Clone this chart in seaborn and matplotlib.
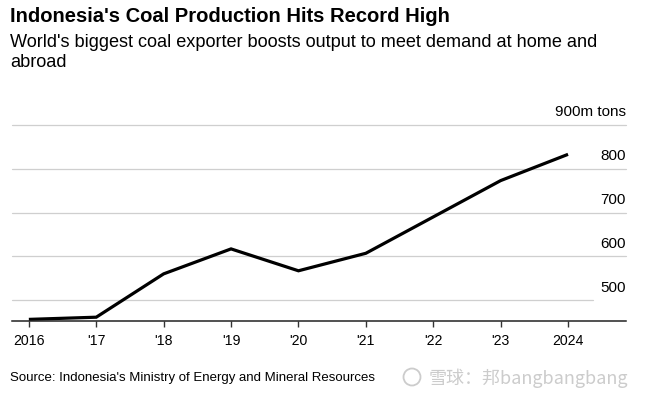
import matplotlib
matplotlib.use("Agg")
import matplotlib.pyplot as plt
import seaborn as sns
import pandas as pd
from matplotlib import font_manager
from matplotlib.patches import Ellipse

years = [2016, 2017, 2018, 2019, 2020, 2021, 2022, 2023, 2024]
production = [456, 461, 560, 617, 567, 607, 690, 773, 833]
x_labels = ["2016", "'17", "'18", "'19", "'20", "'21", "'22", "'23", "2024"]
y_ticks = [500, 600, 700, 800, 900]
y_labels = ["500", "600", "700", "800", "900m tons"]

title = "Indonesia's Coal Production Hits Record High"
subtitle_lines = ["World's biggest coal exporter boosts output to meet demand at home and",
                  "abroad"]
source = "Source: Indonesia's Ministry of Energy and Mineral Resources"
watermark = "雪球：邦bangbangbang"

sns.set_theme(style="white")
names = {f.name for f in font_manager.fontManager.ttflist}
base = "Liberation Sans" if "Liberation Sans" in names else "DejaVu Sans"
plt.rcParams["font.family"] = [base, "DejaVu Sans"]

df = pd.DataFrame({"year": years, "production": production})

fig = plt.figure(figsize=(6.48, 3.97), dpi=100)
ax = fig.add_axes([12 / 648, 1 - 320.7 / 397, 614 / 648, (320.7 - 125) / 397])

sns.lineplot(data=df, x="year", y="production", ax=ax, color="black",
             linewidth=2.3, solid_joinstyle="miter", solid_capstyle="butt")

ax.set_xlim(2015.75, 2024.86)
ax.set_ylim(453, 900)

# gridlines
for v in y_ticks:
    xmax = 0.946 if v == 500 else 1.0
    ax.axhline(v, xmin=0, xmax=xmax, color="#cfcfcf", linewidth=0.9,
               zorder=0, clip_on=False)

# y labels placed above gridlines at right
for v, lab in zip(y_ticks, y_labels):
    ax.annotate(lab, xy=(1.0, v), xycoords=("axes fraction", "data"),
                xytext=(0, 6.2), textcoords="offset points",
                ha="right", va="baseline", fontsize=11, color="black")

ax.set_yticks([])
ax.set_xticks(years)
ax.set_xticklabels(x_labels, fontsize=10.2, color="black")
ax.tick_params(axis="x", direction="out", length=4, width=1.0,
               color="#333333", pad=5.5, bottom=True)
ax.set_xlabel("")
ax.set_ylabel("")
for s in ["top", "left", "right"]:
    ax.spines[s].set_visible(False)
ax.spines["bottom"].set_color("#222222")
ax.spines["bottom"].set_linewidth(1.1)
ax.set_facecolor("white")
ax.grid(False)

fig.text(10 / 648, 1 - 21.7 / 397, title, fontsize=14.5, fontweight="bold",
         ha="left", va="baseline", color="black")
fig.text(10 / 648, 1 - 47.3 / 397, subtitle_lines[0], fontsize=13.1,
         ha="left", va="baseline", color="black")
fig.text(10 / 648, 1 - 66.7 / 397, subtitle_lines[1], fontsize=13.1,
         ha="left", va="baseline", color="black")
fig.text(10 / 648, 1 - 378 / 397, source, fontsize=9.5, ha="left",
         va="center", color="black")

# watermark
fig.patches.append(Ellipse((412 / 648, 1 - 377 / 397), 17 / 648, 17 / 397,
                           transform=fig.transFigure, fill=False,
                           edgecolor="#cccccc", linewidth=1.3))
fig.text(429 / 648, 1 - 378 / 397, watermark, fontsize=13, ha="left",
         va="center", color="#cccccc",
         family=["Noto Sans CJK SC", "DejaVu Sans"])

fig.savefig("out.png", dpi=100, facecolor="white")
